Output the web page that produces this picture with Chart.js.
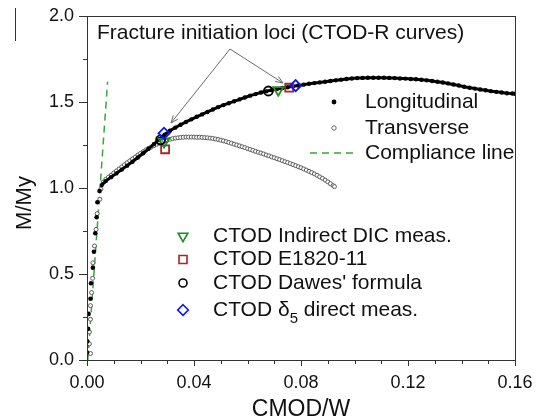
<!DOCTYPE html>
<html>
<head>
<meta charset="utf-8">
<script src="https://cdn.jsdelivr.net/npm/chart.js@4.4.1/dist/chart.umd.min.js"></script>
<style>
html,body{margin:0;padding:0;background:#fff;}
#wrap{width:536px;height:419px;position:relative;}
</style>
</head>
<body>
<div id="wrap"><canvas id="c" width="536" height="419"></canvas></div>
<script>
// ---------------- data ----------------
const xTickLabels = ['0.00', '0.04', '0.08', '0.12', '0.16'];
const yTickLabels = ['0.0', '0.5', '1.0', '1.5', '2.0'];

// Longitudinal - elastic part (sparse dots)
const longEarlyX = [0.0000, 0.0001, 0.0004, 0.0006, 0.0013, 0.0015, 0.0022, 0.0026, 0.0031, 0.0036, 0.0039, 0.0047];
const longEarlyY = [0.044, 0.108, 0.181, 0.268, 0.356, 0.446, 0.537, 0.629, 0.737, 0.830, 0.917, 0.982];

// Longitudinal - plastic part (dense dots)
const longX = [0.0055, 0.007, 0.009, 0.011, 0.013, 0.015, 0.017, 0.019, 0.021, 0.023, 0.025, 0.027, 0.029,
  0.031, 0.033, 0.035, 0.037, 0.039, 0.041, 0.043, 0.045, 0.047, 0.049, 0.051, 0.053, 0.055, 0.057, 0.059,
  0.061, 0.063, 0.065, 0.067, 0.069, 0.071, 0.073, 0.075, 0.077, 0.079, 0.081, 0.083, 0.085, 0.087, 0.089,
  0.091, 0.093, 0.095, 0.097, 0.099, 0.101, 0.103, 0.105, 0.107, 0.109, 0.111, 0.113, 0.115, 0.117, 0.119,
  0.121, 0.123, 0.125, 0.127, 0.129, 0.131, 0.133, 0.135, 0.137, 0.139, 0.141, 0.143, 0.145, 0.147, 0.149,
  0.151, 0.153, 0.155, 0.157, 0.159, 0.160];
const longY = [1.017, 1.040, 1.063, 1.085, 1.107, 1.130, 1.153, 1.177, 1.202, 1.228, 1.255, 1.283, 1.310,
  1.333, 1.351, 1.368, 1.384, 1.399, 1.414, 1.428, 1.442, 1.456, 1.470, 1.482, 1.493, 1.504, 1.515, 1.526,
  1.537, 1.546, 1.555, 1.562, 1.569, 1.575, 1.581, 1.586, 1.591, 1.596, 1.601, 1.606, 1.610, 1.614, 1.618,
  1.622, 1.626, 1.630, 1.634, 1.637, 1.639, 1.640, 1.641, 1.641, 1.641, 1.641, 1.640, 1.639, 1.637, 1.636,
  1.634, 1.632, 1.629, 1.626, 1.622, 1.618, 1.613, 1.608, 1.602, 1.596, 1.589, 1.583, 1.578, 1.573, 1.568,
  1.563, 1.559, 1.555, 1.551, 1.549, 1.548];

// Transverse (open circles)
const transX = [0.0013, 0.0009, 0.0009, 0.0013, 0.0013, 0.0017, 0.0021, 0.0022, 0.0028, 0.0034, 0.0038, 0.0048, 0.0052, 0.0061,
  0.007, 0.008, 0.009, 0.010, 0.011, 0.012, 0.013, 0.014, 0.015, 0.016, 0.017, 0.018, 0.019, 0.020,
  0.021, 0.022, 0.023, 0.024, 0.025, 0.026, 0.027, 0.028, 0.029, 0.030, 0.031, 0.032, 0.033, 0.034,
  0.035, 0.036, 0.037, 0.038, 0.039, 0.040, 0.041, 0.042, 0.043, 0.044, 0.045, 0.046, 0.047, 0.048,
  0.049, 0.050, 0.051, 0.052, 0.053, 0.054, 0.055, 0.056, 0.057, 0.058, 0.059, 0.060, 0.061, 0.062,
  0.063, 0.064, 0.065, 0.066, 0.067, 0.068, 0.069, 0.070, 0.071, 0.072, 0.073, 0.074, 0.075, 0.076,
  0.077, 0.078, 0.079, 0.080, 0.081, 0.082, 0.083, 0.084, 0.085, 0.086, 0.087, 0.088, 0.089, 0.090,
  0.091, 0.092, 0.0925];
const transY = [0.038, 0.094, 0.163, 0.237, 0.316, 0.392, 0.475, 0.565, 0.663, 0.759, 0.851, 0.935, 0.994, 1.035,
  1.050, 1.062, 1.074, 1.087, 1.099, 1.111, 1.123, 1.135, 1.147, 1.158, 1.169, 1.180, 1.191, 1.201,
  1.211, 1.221, 1.230, 1.238, 1.246, 1.254, 1.261, 1.268, 1.274, 1.279, 1.283, 1.287, 1.290, 1.292,
  1.294, 1.295, 1.296, 1.296, 1.296, 1.296, 1.295, 1.295, 1.294, 1.293, 1.292, 1.290, 1.288, 1.285,
  1.282, 1.278, 1.274, 1.270, 1.265, 1.260, 1.255, 1.250, 1.245, 1.240, 1.235, 1.229, 1.224, 1.219,
  1.213, 1.208, 1.203, 1.198, 1.192, 1.187, 1.181, 1.176, 1.170, 1.165, 1.159, 1.153, 1.148, 1.142,
  1.136, 1.130, 1.124, 1.118, 1.111, 1.104, 1.097, 1.090, 1.082, 1.074, 1.065, 1.056, 1.046, 1.036,
  1.025, 1.014, 1.008];

// Compliance line end points
const complianceX = [0.0003, 0.0077];
const complianceY = [0.0, 1.618];

// CTOD markers (lower = transverse, upper = longitudinal)
const dicX = [0.0288, 0.0715];     const dicY = [1.269, 1.570];
const e1820X = [0.0292, 0.0756];   const e1820Y = [1.225, 1.583];
const dawesX = [0.0275, 0.0678];   const dawesY = [1.280, 1.564];
const delta5X = [0.0288, 0.0780];  const delta5Y = [1.318, 1.595];

const legendTop = ['Longitudinal', 'Transverse', 'Compliance line'];
const legendBottom = ['CTOD Indirect DIC meas.', 'CTOD E1820-11', "CTOD Dawes' formula", 'CTOD δ5 direct meas.'];
const annotationText = 'Fracture initiation loci (CTOD-R curves)';
const xTitle = 'CMOD/W';
const yTitle = 'M/My';

// ---------------- helpers ----------------
const pts = (xs, ys) => xs.map((x, i) => ({x: x, y: ys[i]}));
const FONT = '"Liberation Sans", Arial, Helvetica, sans-serif';
const GREEN = '#1f8f1f';
const RED = '#a3262a';
const BLUE = '#0a14ff';
const COMPL = '#3aa53a';
const TXT = 21;

function drawMarker(ctx, kind, x, y) {
  ctx.save();
  ctx.lineWidth = 1.6;
  ctx.beginPath();
  if (kind === 'tri') {
    ctx.strokeStyle = GREEN;
    const r = 5.6;
    ctx.moveTo(x - r * 0.866, y - r * 0.5);
    ctx.lineTo(x + r * 0.866, y - r * 0.5);
    ctx.lineTo(x, y + r);
    ctx.closePath();
  } else if (kind === 'sq') {
    ctx.strokeStyle = RED;
    ctx.rect(x - 4, y - 4, 8, 8);
  } else if (kind === 'circ') {
    ctx.strokeStyle = '#000';
    ctx.arc(x, y, 4, 0, Math.PI * 2);
  } else if (kind === 'dia') {
    ctx.strokeStyle = BLUE;
    ctx.moveTo(x, y - 5.3); ctx.lineTo(x + 5.3, y); ctx.lineTo(x, y + 5.3); ctx.lineTo(x - 5.3, y); ctx.closePath();
  }
  ctx.stroke();
  ctx.restore();
}

function arrow(ctx, x0, y0, x1, y1) {
  ctx.save();
  ctx.strokeStyle = '#6a6a6a';
  ctx.lineWidth = 1;
  ctx.beginPath();
  ctx.moveTo(x0, y0); ctx.lineTo(x1, y1);
  const a = Math.atan2(y1 - y0, x1 - x0);
  const L = 8, w = 0.38;
  ctx.moveTo(x1 - L * Math.cos(a - w), y1 - L * Math.sin(a - w));
  ctx.lineTo(x1, y1);
  ctx.lineTo(x1 - L * Math.cos(a + w), y1 - L * Math.sin(a + w));
  ctx.stroke();
  ctx.restore();
}

const decor = {
  id: 'decor',
  afterDraw(chart) {
    const ctx = chart.ctx;
    const ca = chart.chartArea;
    const xs = chart.scales.x, ys = chart.scales.y;
    ctx.save();
    // frame
    ctx.strokeStyle = '#333';
    ctx.lineWidth = 1;
    ctx.strokeRect(Math.round(ca.left) + 0.5, Math.round(ca.top) + 0.5,
      Math.round(ca.right - ca.left), Math.round(ca.bottom - ca.top));
    // tick marks (outside)
    ctx.beginPath();
    xs.ticks.forEach(t => {
      const px = Math.round(xs.getPixelForValue(t.value)) + 0.5;
      const major = Math.round(t.value * 100) % 4 === 0;
      ctx.moveTo(px, ca.bottom);
      ctx.lineTo(px, ca.bottom + (major ? 6 : 4));
    });
    ys.ticks.forEach(t => {
      const py = Math.round(ys.getPixelForValue(t.value)) + 0.5;
      const major = Math.round(t.value * 100) % 50 === 0;
      ctx.moveTo(ca.left, py);
      ctx.lineTo(ca.left - (major ? 8 : 4), py);
    });
    ctx.stroke();
    // stray vertical line at top-left of source figure
    ctx.beginPath();
    ctx.moveTo(15.5, 8); ctx.lineTo(15.5, 41);
    ctx.stroke();

    ctx.fillStyle = '#111';
    // axis titles
    ctx.font = '23px ' + FONT;
    ctx.textAlign = 'center';
    ctx.textBaseline = 'alphabetic';
    ctx.fillText(xTitle, (ca.left + ca.right) / 2, 416);
    ctx.font = '22px ' + FONT;
    ctx.save();
    ctx.translate(31, 203);
    ctx.rotate(-Math.PI / 2);
    ctx.fillText(yTitle, 0, 0);
    ctx.restore();

    // annotation
    ctx.font = TXT + 'px ' + FONT;
    ctx.textAlign = 'left';
    ctx.textBaseline = 'middle';
    ctx.fillText(annotationText, 97, 33);
    arrow(ctx, 230, 49, 171, 123);
    arrow(ctx, 230, 49, 283, 83);

    // top legend
    const tx = 365;
    const rowsTop = [102, 128, 153];
    ctx.fillText(legendTop[0], tx, rowsTop[0]);
    ctx.fillText(legendTop[1], tx, rowsTop[1]);
    ctx.fillText(legendTop[2], tx, rowsTop[2]);
    ctx.beginPath(); ctx.fillStyle = '#000'; ctx.arc(334, rowsTop[0], 2.4, 0, Math.PI * 2); ctx.fill();
    ctx.beginPath(); ctx.strokeStyle = '#666'; ctx.lineWidth = 1; ctx.arc(334, rowsTop[1], 2.2, 0, Math.PI * 2); ctx.stroke();
    ctx.save();
    ctx.strokeStyle = COMPL; ctx.lineWidth = 1.5; ctx.setLineDash([7, 5]);
    ctx.beginPath(); ctx.moveTo(310, rowsTop[2]); ctx.lineTo(356, rowsTop[2]); ctx.stroke();
    ctx.restore();

    // bottom legend
    ctx.fillStyle = '#111';
    const bx = 213;
    const rowsB = [236, 259.5, 283, 310];
    const kinds = ['tri', 'sq', 'circ', 'dia'];
    for (let i = 0; i < 4; i++) {
      drawMarker(ctx, kinds[i], 183, rowsB[i]);
    }
    ctx.font = TXT + 'px ' + FONT;
    ctx.textBaseline = 'middle';
    ctx.fillText(legendBottom[0], bx, rowsB[0]);
    ctx.fillText(legendBottom[1], bx, rowsB[1]);
    ctx.fillText(legendBottom[2], bx, rowsB[2]);
    // delta with subscript 5
    const parts = legendBottom[3].split('δ5');
    let cx = bx;
    ctx.fillText(parts[0] + 'δ', cx, rowsB[3]);
    cx += ctx.measureText(parts[0] + 'δ').width;
    ctx.font = '15px ' + FONT;
    ctx.fillText('5', cx, rowsB[3] + 9);
    cx += ctx.measureText('5').width;
    ctx.font = TXT + 'px ' + FONT;
    ctx.fillText(parts[1], cx, rowsB[3]);
    ctx.restore();
  }
};

function fixPad(s) {
  s.paddingTop = 0; s.paddingBottom = 0; s.paddingLeft = 0; s.paddingRight = 0;
}

const ctx = document.getElementById('c').getContext('2d');
new Chart(ctx, {
  type: 'scatter',
  data: {
    datasets: [
      { label: 'dawes', data: pts(dawesX, dawesY), pointStyle: 'circle', pointRadius: 4.5,
        pointBackgroundColor: 'rgba(0,0,0,0)', pointBorderColor: '#000', pointBorderWidth: 1.8, order: 1 },
      { label: 'dic', data: pts(dicX, dicY), pointStyle: 'triangle', pointRotation: 180, pointRadius: 5.8,
        pointBackgroundColor: 'rgba(0,0,0,0)', pointBorderColor: GREEN, pointBorderWidth: 1.8, order: 1 },
      { label: 'e1820', data: pts(e1820X, e1820Y), pointStyle: 'rect', pointRadius: 5.6,
        pointBackgroundColor: 'rgba(0,0,0,0)', pointBorderColor: RED, pointBorderWidth: 1.8, order: 1 },
      { label: 'delta5', data: pts(delta5X, delta5Y), pointStyle: 'rectRot', pointRadius: 5.6,
        pointBackgroundColor: 'rgba(0,0,0,0)', pointBorderColor: BLUE, pointBorderWidth: 1.8, order: 0 },
      { label: 'Longitudinal', data: pts(longX, longY), showLine: true, borderColor: '#000', borderWidth: 3,
        pointRadius: 2.2, pointBackgroundColor: '#000', pointBorderColor: '#000', pointBorderWidth: 0, order: 2 },
      { label: 'Longitudinal early', data: pts(longEarlyX, longEarlyY), pointRadius: 2.3,
        pointBackgroundColor: '#000', pointBorderColor: '#000', pointBorderWidth: 0, order: 2 },
      { label: 'Transverse', data: pts(transX, transY), pointRadius: 2.0,
        pointBackgroundColor: '#fff', pointBorderColor: '#5a5a5a', pointBorderWidth: 1, order: 3 },
      { label: 'Compliance line', data: pts(complianceX, complianceY), showLine: true, borderColor: COMPL,
        borderWidth: 1.5, borderDash: [7, 5], pointRadius: 0, order: 4 }
    ]
  },
  options: {
    responsive: false,
    animation: false,
    events: [],
    layout: { padding: { left: 0, top: 16, right: 21, bottom: 0 } },
    plugins: { legend: { display: false }, tooltip: { enabled: false }, title: { display: false } },
    scales: {
      x: {
        type: 'linear', min: 0, max: 0.16,
        grid: { display: false, drawTicks: false },
        border: { display: true, color: '#333', width: 1 },
        ticks: {
          stepSize: 0.01, padding: 12, color: '#111', maxRotation: 0, autoSkip: false,
          font: { family: FONT, size: 18 },
          callback: v => {
            const k = Math.round(v * 100);
            return k % 4 === 0 ? xTickLabels[k / 4] : '';
          }
        },
        afterFit: s => { s.height = 59; fixPad(s); }
      },
      y: {
        type: 'linear', min: 0, max: 2,
        grid: { display: false, drawTicks: false },
        border: { display: true, color: '#333', width: 1 },
        ticks: {
          stepSize: 0.25, padding: 13, color: '#111', autoSkip: false,
          font: { family: FONT, size: 18 },
          callback: v => {
            const k = Math.round(v * 100);
            return k % 50 === 0 ? yTickLabels[k / 50] : '';
          }
        },
        afterFit: s => { s.width = 87; fixPad(s); }
      }
    }
  },
  plugins: [decor]
});
</script>
</body>
</html>
